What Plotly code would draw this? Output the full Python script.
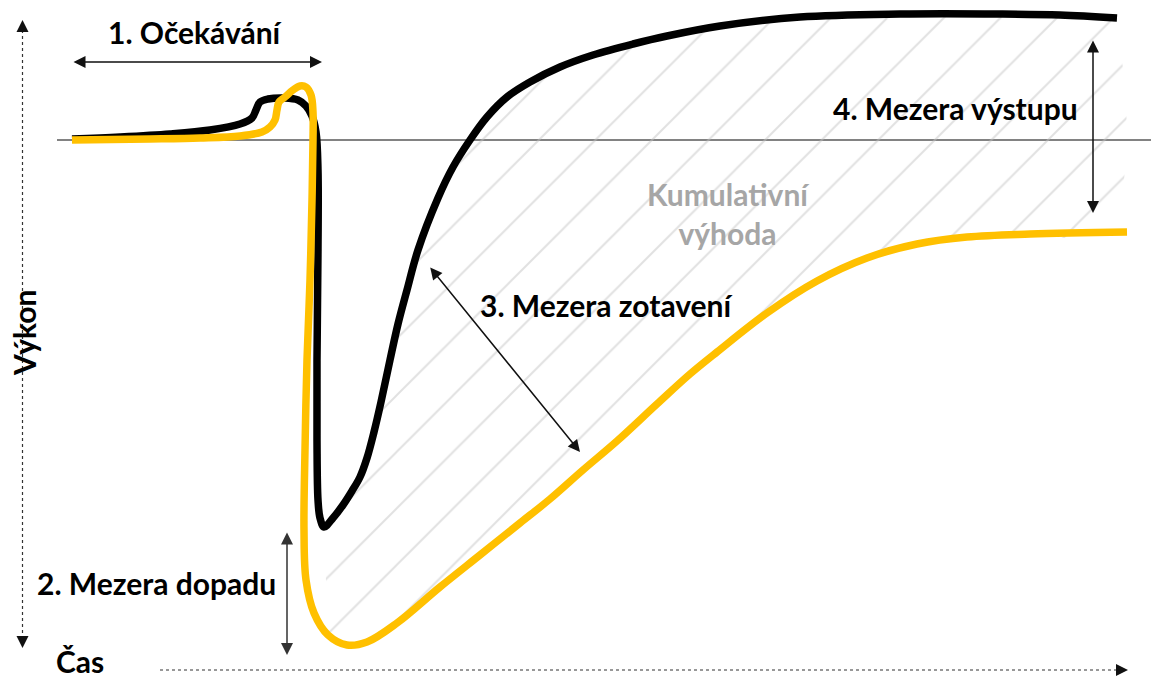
import numpy as np
import plotly.graph_objects as go

# ---- data (time units, performance relative to baseline = 0) ----
black_t = [0, 4.8, 9.8, 13.8, 16.8, 18.0, 18.4, 18.8, 19.6, 21.3, 22.6, 23.4, 24.0, 24.4, 24.6,
           24.6, 24.5, 24.5, 24.6, 24.8,
           25.2, 26.1, 27.1, 28.0, 28.8, 29.5, 30.2, 30.9, 31.8, 32.6,
           33.5, 34.6, 36.6, 38.1, 39.8, 41.5, 43.5, 45.8, 48.8, 52.1,
           56.1, 59.5, 64.8, 72.8, 82.8, 92.8, 98.8, 104.5]
black_v = [0.1, 0.3, 0.6, 1.0, 1.6, 2.2, 3.0, 3.8, 4.1, 4.2, 4.0, 3.4, 2.4, 0.8, -3.0,
           -11.0, -22.0, -30.0, -36.0, -37.8,
           -38.7, -37.8, -36.5, -35.1, -33.7, -31.8, -29.2, -26.2, -22.0, -18.4,
           -15.0, -11.0, -5.8, -2.7, 0.0, 2.3, 4.3, 5.8, 7.3, 8.5,
           9.6, 10.4, 11.4, 12.3, 12.6, 12.6, 12.5, 12.2]

yellow_t = [0, 7.8, 12.8, 16.8, 19.0, 19.8, 20.3, 20.5, 20.7, 21.3, 22.1, 22.8, 23.4, 23.9, 24.1,
            24.1, 24.0, 23.8, 23.5, 23.3, 23.2, 23.4, 24.2, 25.6, 27.5, 29.5, 32.5,
            36.8, 40.8, 44.8, 47.8, 51.1, 54.5, 58.5, 61.8, 64.5, 69.5, 74.5, 79.5, 84.5, 89.5, 95.8, 105.5]
yellow_v = [0.0, 0.1, 0.2, 0.4, 0.8, 1.3, 2.0, 3.0, 3.8, 4.3, 5.0, 5.4, 5.3, 4.5, 2.8,
            0.0, -6.0, -14.0, -22.0, -31.0, -39.0, -44.0, -47.3, -49.5, -50.5, -50.2, -48.3,
            -44.7, -41.5, -38.3, -35.9, -33.0, -30.1, -26.4, -23.4, -21.2, -17.3, -14.1, -11.8, -10.4, -9.7, -9.4, -9.2]

hatch_end_t = 103.6

labels = {
    "anticipation": "1. Očekávání",
    "impact": "2. Mezera dopadu",
    "recovery": "3. Mezera zotavení",
    "output": "4. Mezera výstupu",
    "cumulative": "Kumulativní<br>výhoda",
    "y": "Výkon",
    "x": "Čas",
}

# ---- geometry helpers (pixel -> data) ----
def X(px):
    return (px - 72) / 10.0

def Y(py):
    return (140 - py) / 10.0

FONT = "Lato, 'Open Sans', sans-serif"
BLACK = "#000000"
GOLD = "#FFC000"
SMOOTH = 1.0

# ---- hatch polygon between the two curves ----
bt = np.array(black_t); bv = np.array(black_v)
yt = np.array(yellow_t); yv = np.array(yellow_v)
bi = int(np.argmin(bv))
yi = int(np.argmin(yv)) - 1
b_mask = bt[bi:] <= hatch_end_t
y_mask = yt[yi:] <= hatch_end_t
bx = list(bt[bi:][b_mask]) + [hatch_end_t]
by = list(bv[bi:][b_mask]) + [float(np.interp(hatch_end_t, bt[bi:], bv[bi:]))]
yx = list(yt[yi:][y_mask]) + [hatch_end_t]
yy = list(yv[yi:][y_mask]) + [float(np.interp(hatch_end_t, yt[yi:], yv[yi:]))]
poly_x = bx + yx[::-1]
poly_y = by + yy[::-1]

fig = go.Figure()

fig.add_trace(go.Scatter(
    x=poly_x, y=poly_y, mode="lines", fill="toself",
    line=dict(width=0, color="rgba(0,0,0,0)", shape="spline", smoothing=SMOOTH, simplify=False),
    fillcolor="rgba(0,0,0,0)",
    fillpattern=dict(shape="/", size=40, solidity=0.05, fgcolor="#c4c4c4",
                     bgcolor="rgba(0,0,0,0)", fillmode="overlay"),
    hoverinfo="skip", showlegend=False))

# baseline
fig.add_shape(type="line", x0=X(57), x1=X(1151), y0=0, y1=0,
              line=dict(color="#595959", width=1.5), layer="below")

fig.add_trace(go.Scatter(x=black_t, y=black_v, mode="lines",
                         line=dict(color=BLACK, width=7.5, shape="spline", smoothing=SMOOTH,
                                   simplify=False),
                         showlegend=False, hoverinfo="skip"))
fig.add_trace(go.Scatter(x=yellow_t, y=yellow_v, mode="lines",
                         line=dict(color=GOLD, width=7.5, shape="spline", smoothing=SMOOTH,
                                   simplify=False),
                         showlegend=False, hoverinfo="skip"))

# dotted axes
fig.add_shape(type="line", x0=X(22.5), x1=X(22.5), y0=Y(30), y1=Y(638),
              line=dict(color="#333333", width=1.2, dash="3px,3px"))
fig.add_shape(type="line", x0=X(160), x1=X(1118), y0=Y(670), y1=Y(670),
              line=dict(color="#333333", width=1.2, dash="3px,3px"))

annos = []

def arrowhead(px, py, dx, dy):
    annos.append(dict(x=X(px), y=Y(py), ax=dx, ay=dy, xref="x", yref="y",
                      text="", showarrow=True, arrowhead=2, arrowsize=1.6,
                      arrowwidth=1.5, arrowcolor="#111111"))

arrowhead(22.5, 20, 0, 12)
arrowhead(22.5, 648, 0, -12)
arrowhead(1128, 670, -12, 0)

def double_arrow(p0, p1, color="#111111"):
    annos.append(dict(x=X(p1[0]), y=Y(p1[1]), ax=X(p0[0]), ay=Y(p0[1]),
                      xref="x", yref="y", axref="x", ayref="y",
                      text="", showarrow=True, arrowhead=2, arrowside="end+start",
                      arrowsize=1.6, arrowwidth=1.5, arrowcolor=color))

double_arrow((72, 62), (322, 62))
double_arrow((287, 531), (287, 655), color="#333333")
double_arrow((429, 266), (580, 452))
double_arrow((1093, 39), (1093, 213))

def label(text, px, py, size=30, color=BLACK, xanchor="center", angle=0):
    annos.append(dict(x=X(px), y=Y(py), xref="x", yref="y", text="<b>" + text + "</b>",
                      showarrow=False, xanchor=xanchor, yanchor="middle", textangle=angle,
                      font=dict(family=FONT, size=size, color=color)))

label(labels["anticipation"], 195, 32)
label(labels["impact"], 278, 583, xanchor="right")
label(labels["recovery"], 607, 305)
label(labels["output"], 955, 108)
label(labels["cumulative"], 728, 213, color="#a6a6a6")
label(labels["y"], 24, 333, angle=-90)
label(labels["x"], 80, 661)

fig.update_layout(
    width=1151, height=682,
    margin=dict(l=0, r=0, t=0, b=0),
    paper_bgcolor="white", plot_bgcolor="white",
    xaxis=dict(visible=False, range=[X(0), X(1151)], fixedrange=True),
    yaxis=dict(visible=False, range=[Y(682), Y(0)], fixedrange=True),
    annotations=annos,
    showlegend=False,
)

fig.write_html("out.html", config={"displayModeBar": False},
               post_script="document.body.style.margin='0';document.body.style.overflow='hidden';")
